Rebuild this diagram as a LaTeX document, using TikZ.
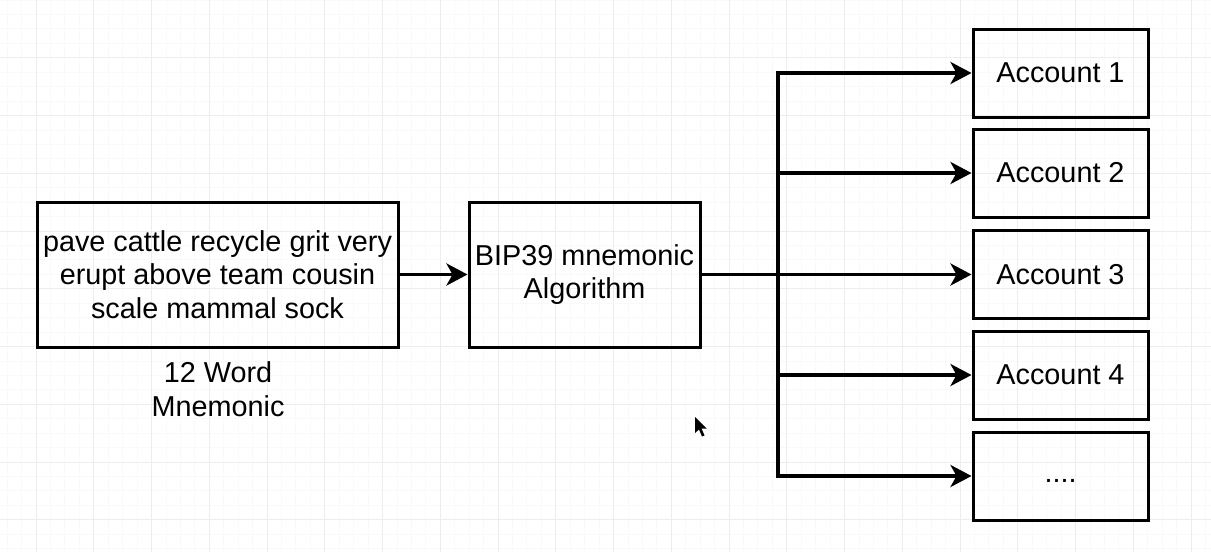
\documentclass[tikz,border=0pt]{standalone}
\usepackage{fontspec}
\setmainfont{Liberation Sans}
\usetikzlibrary{arrows.meta}
\definecolor{gridmajor}{RGB}{237,237,237}
\definecolor{gridminor}{RGB}{249,249,249}
\tikzset{
  box/.style={draw=black, line width=3pt, rectangle, inner sep=0pt, align=center,
    font=\fontsize{28.8}{33.5}\selectfont},
  conn/.style={draw=black, line width=3.6pt,
    -{Stealth[length=21pt, width=22pt, inset=6pt]}},
  plainconn/.style={draw=black, line width=3.6pt},
  lbl/.style={align=center, font=\fontsize{28.8}{34}\selectfont, inner sep=0pt},
  gmaj/.style={draw=gridmajor, line width=1pt},
  gmin/.style={draw=gridminor, line width=0.8pt}
}
\begin{document}
\begin{tikzpicture}[x=1pt, y=-1pt]
\useasboundingbox (0,0) rectangle (1211,552);
\fill[white] (0,0) rectangle (1211,552);
% grid
\foreach \k in {-2,...,84} {
  \draw[gmin] ({36+14.4375*\k},0) -- ({36+14.4375*\k},552);
}
\foreach \k in {0,...,39} {
  \draw[gmin] (0,{14.4375*\k}) -- (1211,{14.4375*\k});
}
\foreach \k in {-1,...,21} {
  \draw[gmaj] ({36+57.75*\k},0) -- ({36+57.75*\k},552);
}
\foreach \k in {1,...,9} {
  \draw[gmaj] (0,{57.75*\k}) -- (1211,{57.75*\k});
}
% nodes
\node[box, minimum width=361pt, minimum height=145pt] (mn) at (217.5,274.5)
  {pave cattle recycle grit very\\erupt above team cousin\\scale mammal sock};
\node[lbl] (cap) at (218,389) {12 Word\\Mnemonic};
\node[box, minimum width=231pt, minimum height=145pt] (alg) at (584.5,274.5)
  {BIP39 mnemonic\\Algorithm};
\node[box, minimum width=175pt, minimum height=88pt] (a1) at (1060.5,73) {Account 1};
\node[box, minimum width=175pt, minimum height=88pt] (a2) at (1060.5,173) {Account 2};
\node[box, minimum width=175pt, minimum height=88pt] (a3) at (1060.5,274.5) {Account 3};
\node[box, minimum width=175pt, minimum height=88pt] (a4) at (1060.5,375) {Account 4};
\node[box, minimum width=175pt, minimum height=88pt] (a5) at (1060.5,476) {\vphantom{Ag}....};
\coordinate (j) at (778,274.5);
% connectors
\draw[conn] (mn.east) -- (alg.west);
\draw[plainconn] (alg.east) -- (j);
\foreach \a in {a1,a2,a3,a4,a5} {
  \draw[conn] (j) |- (\a.west);
}
% mouse pointer
\fill[black] (695,417) -- (695,433) -- (699,429.5) -- (702,436.5) -- (704.5,435.5) -- (701.5,428.5) -- (706.5,428.5) -- cycle;
\end{tikzpicture}
\end{document}
